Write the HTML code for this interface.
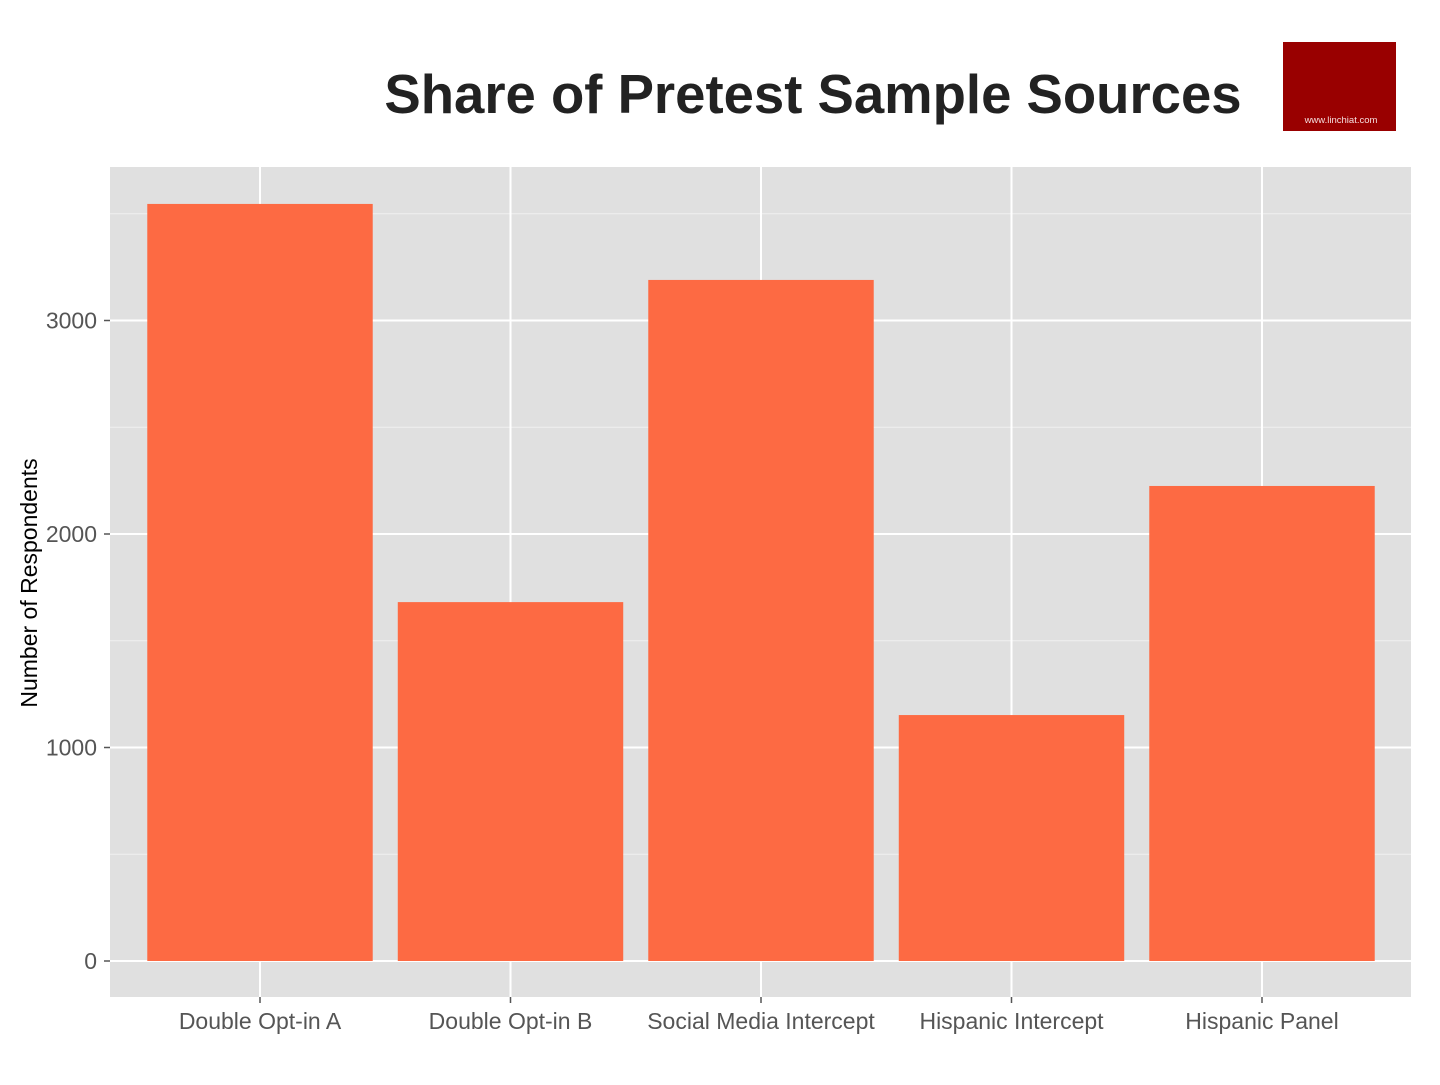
<!DOCTYPE html>
<html><head><meta charset="utf-8"><style>
body{margin:0;background:#fff;width:1440px;height:1080px;overflow:hidden;font-family:"Liberation Sans",sans-serif}
</style></head><body>
<svg id="c" width="1440" height="1080" xmlns="http://www.w3.org/2000/svg">
<text x="813" y="113" text-anchor="middle" font-size="54.5" font-weight="bold" fill="#222" font-family="Liberation Sans, sans-serif">Share of Pretest Sample Sources</text>
<rect x="1283" y="42" width="113" height="89" fill="#990000"/>
<text x="1341" y="123" text-anchor="middle" font-size="9.5" fill="#f5dede">www.linchiat.com</text>
<rect x="110" y="167" width="1301" height="830" fill="#e0e0e0"/>
<g id="grid"></g><g id="bars"></g><g id="axes"></g>
<text transform="translate(37,583) rotate(-90)" text-anchor="middle" font-size="23" fill="#000">Number of Respondents</text>
</svg>
<script>
const categories=["Double Opt-in A","Double Opt-in B","Social Media Intercept","Hispanic Intercept","Hispanic Panel"];
const values=[3546,1681,3190,1152,2225];
const yTicks=[0,1000,2000,3000];
const NS="http://www.w3.org/2000/svg";
const y=v=>961-v*0.2135;
const band=250.5, x=i=>260+i*band;
function mk(t,a,p){const e=document.createElementNS(NS,t);for(const k in a)e.setAttribute(k,a[k]);p.appendChild(e);return e;}
const g=document.getElementById('grid'),b=document.getElementById('bars'),ax=document.getElementById('axes');
[500,1500,2500,3500].forEach(v=>{const l=mk('line',{x1:110,x2:1411,y1:y(v),y2:y(v),stroke:'#f0f0f0','stroke-width':1},g);

});
yTicks.forEach(v=>{const l=mk('line',{x1:110,x2:1411,y1:y(v),y2:y(v),stroke:'#fff','stroke-width':2},g);


const t=mk('line',{x1:104,x2:110,y1:y(v),y2:y(v),stroke:'#555','stroke-width':1.5},ax);


const tx=mk('text',{x:97,y:y(v)+8,'text-anchor':'end','font-size':23,fill:'#555'},ax);tx.textContent=v;

});
categories.forEach((c,i)=>{const l=mk('line',{x1:x(i),x2:x(i),y1:167,y2:997,stroke:'#fff','stroke-width':2},g);


const r=mk('rect',{x:x(i)-band*0.45,y:y(values[i]),width:band*0.9,height:y(0)-y(values[i]),fill:'#fd6a43'},b);


const t=mk('line',{x1:x(i),x2:x(i),y1:997,y2:1003,stroke:'#555','stroke-width':1.5},ax);


const tx=mk('text',{x:x(i),y:1029,'text-anchor':'middle','font-size':23,fill:'#555'},ax);tx.textContent=c;

});
</script>
</body></html>
